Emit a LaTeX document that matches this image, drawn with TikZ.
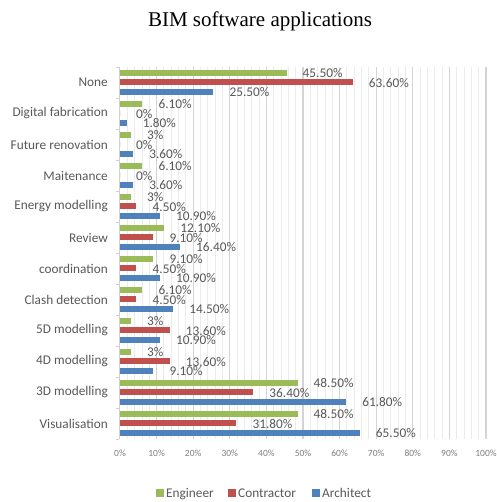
\documentclass[tikz,border=0pt]{standalone}
\usepackage{fontspec}
\setmainfont{Carlito}
\newfontfamily\titlefont{Liberation Serif}
\definecolor{eng}{HTML}{9BBB59}
\definecolor{con}{HTML}{C0504D}
\definecolor{arc}{HTML}{4F81BD}
\definecolor{lbl}{HTML}{595959}
\definecolor{ticktxt}{HTML}{7F7F7F}
\definecolor{majgrid}{HTML}{D4D4D4}
\definecolor{mingrid}{HTML}{EBEBEB}
\definecolor{axisgray}{HTML}{D0D0D0}
\begin{document}
\begin{tikzpicture}[x=1pt,y=-1pt,
  vallabel/.style={anchor=west,inner sep=0pt,font=\fontsize{13.3}{13.3}\selectfont,text=lbl},
  catlabel/.style={anchor=east,inner sep=0pt,font=\fontsize{13.3}{13.3}\selectfont,text=lbl},
  ticklabel/.style={anchor=base,inner sep=0pt,font=\fontsize{9.5}{9.5}\selectfont,text=ticktxt},
  legtext/.style={anchor=base west,inner sep=0pt,font=\fontsize{13.3}{13.3}\selectfont,text=lbl},
  legbox/.style={minimum size=8pt,inner sep=0pt,draw=none},
  mingridline/.style={draw=mingrid,line width=0.9pt},
  majgridline/.style={draw=majgrid,line width=1.1pt},
  axisline/.style={draw=axisgray,line width=0.9pt}]
\useasboundingbox[fill=white] (0,0) rectangle (496,502);
% title
\node[anchor=base,inner sep=0pt,font=\titlefont\fontsize{21}{21}\selectfont] (title) at (260,26.5) {BIM software applications};
% gridlines
\foreach \g in {1,...,50}{
  \pgfmathtruncatemacro\ismaj{mod(\g,5)==0 ? 1 : 0}
  \ifnum\ismaj=1
    \draw[majgridline] (120+\g*7.32,67) -- (120+\g*7.32,439);
  \else
    \draw[mingridline] (120+\g*7.32,67) -- (120+\g*7.32,439);
  \fi
}
% axis
\draw[axisline] (119,67) -- (119,439);
\foreach \k in {0,...,12}{
  \draw[axisline] (116,67+31*\k) -- (119,67+31*\k);
}
% tick labels
\foreach \p in {0,10,...,100}{
  \node[ticklabel] (t\p) at (120+\p*3.66,456.7) {\p\%};
}
% bars
\foreach \name/\e/\c/\a [count=\i from 0] in {
 None/45.50/63.60/25.50,
 Digital fabrication/6.10/0/1.80,
 Future renovation/3/0/3.60,
 Maitenance/6.10/0/3.60,
 Energy modelling/3/4.50/10.90,
 Review/12.10/9.10/16.40,
 {coordination\ }/9.10/4.50/10.90,
 Clash detection/6.10/4.50/14.50,
 5D modelling/3/13.60/10.90,
 4D modelling/3/13.60/9.10,
 3D modelling/48.50/36.40/61.80,
 Visualisation/48.50/31.80/65.50}{
  \pgfmathsetmacro\T{67+31*\i}
  \node[catlabel] (cat\i) at (108,\T+15.5) {\name};
  \foreach \v/\col/\off/\k in {\e/eng/5.8/E,\c/con/15.3/C,\a/arc/24.8/A}{
     \fill[\col] (120,\T+\off-2.9) rectangle ++(\v*3.66,5.8);
     \node[vallabel] (l\k\i) at (120+\v*3.66+16,\T+\off+0.6) {\v\%};
  }
}
% legend
\node[legbox,fill=eng] (kE) at (160,493) {};
\node[legtext] (kEt) at (166,497) {Engineer};
\node[legbox,fill=con] (kC) at (231.7,493) {};
\node[legtext] (kCt) at (238,497) {Contractor};
\node[legbox,fill=arc] (kA) at (316,493) {};
\node[legtext] (kAt) at (322,497) {Architect};
\end{tikzpicture}
\end{document}
